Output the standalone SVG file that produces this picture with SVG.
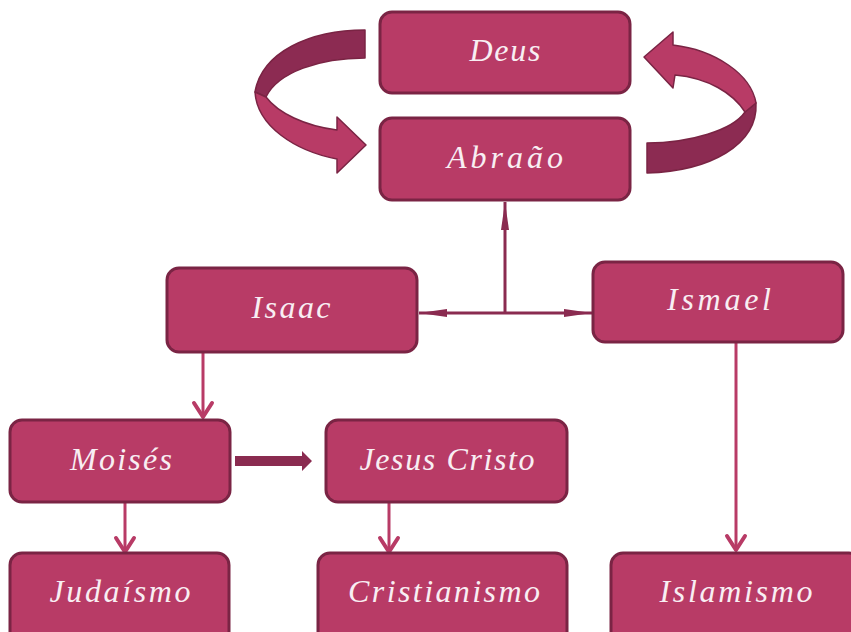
<svg xmlns="http://www.w3.org/2000/svg" width="851" height="632" viewBox="0 0 851 632">
<style>
.box{fill:#B83B66;stroke:#7A2444;stroke-width:3}
.lbl{font-family:"Liberation Serif","DejaVu Serif",serif;font-style:italic;font-size:32px;fill:#F8EEF3;text-anchor:middle}
.dk{stroke:#8A2B50;stroke-width:3;fill:none}
.lt{stroke:#B83B66;stroke-width:3;fill:none}
.chev{stroke:#B83B66;stroke-width:4;fill:none;stroke-linecap:round;stroke-linejoin:round}
.rib{stroke:#7A2444;stroke-width:1.5;stroke-linejoin:round}
</style>
<defs>
<marker id="thin" viewBox="0 0 28 9" refX="28" refY="4.5" markerWidth="28" markerHeight="9" markerUnits="userSpaceOnUse" orient="auto">
<path d="M0 0.5 L28 4.5 L0 8.5 Z" fill="#8A2B50"/>
</marker>
</defs>
<rect width="851" height="632" fill="#FFFFFF"/>
<g id="connectors">
<!-- curved arrow left: Deus to Abraao -->
<path class="rib" d="M365 30 C310 30 262 52 255 92 L266 97 C278 72 320 58 365 58 Z" fill="#8C2B52"/>
<path class="rib" d="M255 92 C257 126 295 151 337 159 L337 173 L366 145 L337 117 L337 130 C305 126 278 113 266 97 Z" fill="#B83B66"/>
<!-- curved arrow right: Abraao to Deus -->
<path class="rib" d="M756 103 C758 145 710 171 647 173 L647 143 C690 143 733 130 745 112 Z" fill="#8C2B52"/>
<path class="rib" d="M756 103 C751 74 715 50 673 45 L673 32 L644 57 L673 88 L675 75 C708 78 733 93 745 112 Z" fill="#B83B66"/>
<!-- Abraao split -->
<line class="dk" x1="505" y1="313" x2="505" y2="202" marker-end="url(#thin)"/>
<line class="dk" x1="505" y1="313" x2="419" y2="313" marker-end="url(#thin)"/>
<line class="dk" x1="505" y1="313" x2="592" y2="313" marker-end="url(#thin)"/>
<!-- Isaac to Moises -->
<line class="lt" x1="203" y1="352" x2="203" y2="416"/>
<path class="chev" d="M194 403 L203 417 L212 403"/>
<!-- Ismael to Islamismo -->
<line class="lt" x1="736" y1="342" x2="736" y2="549"/>
<path class="chev" d="M727 536 L736 550 L745 536"/>
<!-- Moises to Judaismo -->
<line class="lt" x1="125" y1="502" x2="125" y2="551"/>
<path class="chev" d="M116 538 L125 552 L134 538"/>
<!-- Jesus to Cristianismo -->
<line class="lt" x1="389" y1="502" x2="389" y2="551"/>
<path class="chev" d="M380 538 L389 552 L398 538"/>
<!-- Moises to Jesus -->
<path d="M235 456 L302 456 L302 451 L312 461 L302 471 L302 466 L235 466 Z" fill="#8A2B50"/>
</g>
<g id="deus"><rect class="box" x="380" y="12" width="250" height="81" rx="12"/><text class="lbl" x="505" y="61" textLength="71" lengthAdjust="spacing">Deus</text></g>
<g id="abraao"><rect class="box" x="380" y="118" width="250" height="82" rx="12"/><text class="lbl" x="505" y="168" textLength="116" lengthAdjust="spacing">Abraão</text></g>
<g id="isaac"><rect class="box" x="167" y="268" width="250" height="84" rx="12"/><text class="lbl" x="291" y="318" textLength="79" lengthAdjust="spacing">Isaac</text></g>
<g id="ismael"><rect class="box" x="593" y="262" width="250" height="80" rx="12"/><text class="lbl" x="719" y="310" textLength="104" lengthAdjust="spacing">Ismael</text></g>
<g id="moises"><rect class="box" x="10" y="420" width="220" height="82" rx="12"/><text class="lbl" x="121" y="470" textLength="102" lengthAdjust="spacing">Moisés</text></g>
<g id="jesus"><rect class="box" x="326" y="420" width="241" height="82" rx="12"/><text class="lbl" x="447" y="470" textLength="175" lengthAdjust="spacing">Jesus Cristo</text></g>
<g id="judaismo"><rect class="box" x="10" y="553" width="219" height="92" rx="12"/><text class="lbl" x="120" y="602" textLength="141" lengthAdjust="spacing">Judaísmo</text></g>
<g id="cristianismo"><rect class="box" x="318" y="553" width="249" height="92" rx="12"/><text class="lbl" x="444" y="602" textLength="192" lengthAdjust="spacing">Cristianismo</text></g>
<g id="islamismo"><rect class="box" x="611" y="553" width="250" height="92" rx="12"/><text class="lbl" x="736" y="602" textLength="153" lengthAdjust="spacing">Islamismo</text></g>
</svg>
